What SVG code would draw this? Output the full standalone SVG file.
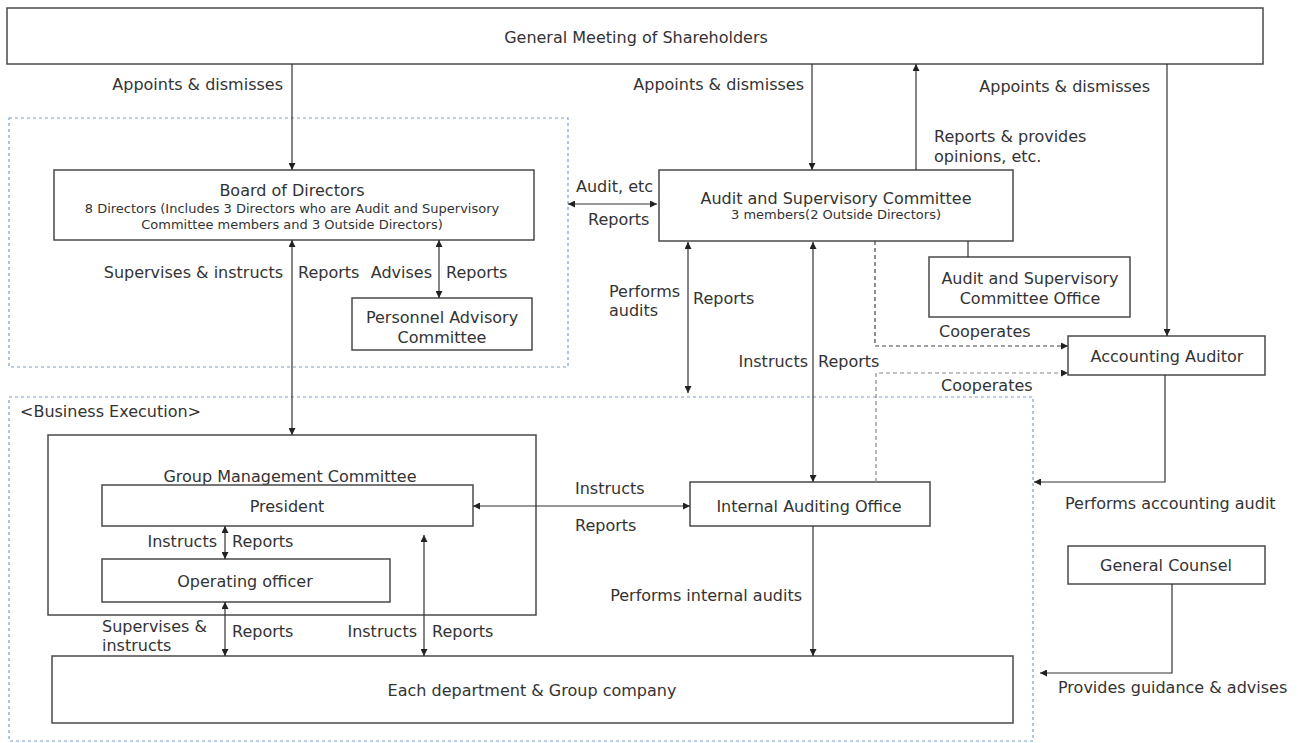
<svg xmlns="http://www.w3.org/2000/svg" width="1298" height="743" viewBox="0 0 1298 743">
<defs>
<style>
text{font-family:"DejaVu Sans","Liberation Sans",sans-serif;font-size:16px;fill:#333;dominant-baseline:central}
.s{font-size:13px}
.m{text-anchor:middle}
.e{text-anchor:end}
.box{fill:#fff;stroke:#4a4a4a;stroke-width:1.5}
.grp{fill:none;stroke:#7b9fd0;stroke-width:1.2;stroke-dasharray:3 3}
.ln{fill:none;stroke:#333;stroke-width:1.2}
.dl{fill:none;stroke:#444;stroke-width:1.2;stroke-dasharray:4 3}
.dl2{fill:none;stroke:#888;stroke-width:1.2;stroke-dasharray:4 3}
</style>
<marker id="ah" viewBox="0 0 10 10" refX="10" refY="5" markerWidth="7" markerHeight="7" markerUnits="userSpaceOnUse" orient="auto-start-reverse">
<path d="M0,0 L10,5 L0,10 z" fill="#222"/>
</marker>
</defs>

<rect class="grp" x="9" y="118" width="559" height="249"/>
<rect class="grp" x="9" y="397" width="1024" height="344"/>
<text x="20" y="411">&lt;Business Execution&gt;</text>

<g id="gms"><rect class="box" x="7" y="8" width="1256" height="56"/><text class="m" x="636" y="37">General Meeting of Shareholders</text></g>
<g id="board"><rect class="box" x="54" y="170" width="480" height="70"/><text class="m" x="292" y="190">Board of Directors</text><text class="m s" x="292" y="208">8 Directors (Includes 3 Directors who are Audit and Supervisory</text><text class="m s" x="292" y="224">Committee members and 3 Outside Directors)</text></g>
<g id="asc"><rect class="box" x="659" y="170" width="354" height="71"/><text class="m" x="836" y="198">Audit and Supervisory Committee</text><text class="m s" x="836" y="214">3 members(2 Outside Directors)</text></g>
<g id="asco"><rect class="box" x="929" y="257" width="201" height="60"/><text class="m" x="1030" y="278">Audit and Supervisory</text><text class="m" x="1030" y="298">Committee Office</text></g>
<g id="aa"><rect class="box" x="1068" y="336" width="197" height="39"/><text class="m" x="1167" y="356">Accounting Auditor</text></g>
<g id="pac"><rect class="box" x="352" y="298" width="180" height="52"/><text class="m" x="442" y="317">Personnel Advisory</text><text class="m" x="442" y="337">Committee</text></g>
<g id="gmc"><rect class="box" x="48" y="435" width="488" height="180"/><text class="m" x="290" y="476">Group Management Committee</text></g>
<g id="pres"><rect class="box" x="102" y="485" width="371" height="41"/><text class="m" x="287" y="506">President</text></g>
<g id="oper"><rect class="box" x="102" y="559" width="288" height="43"/><text class="m" x="245" y="581">Operating officer</text></g>
<g id="iao"><rect class="box" x="690" y="482" width="240" height="44"/><text class="m" x="809" y="506">Internal Auditing Office</text></g>
<g id="dept"><rect class="box" x="52" y="656" width="961" height="67"/><text class="m" x="532" y="690">Each department &amp; Group company</text></g>
<g id="gc"><rect class="box" x="1068" y="546" width="197" height="38"/><text class="m" x="1166" y="565">General Counsel</text></g>

<g id="connectors">
<path class="ln" d="M292,64 V170" marker-end="url(#ah)"/>
<path class="ln" d="M812,64 V170" marker-end="url(#ah)"/>
<path class="ln" d="M916,170 V64" marker-end="url(#ah)"/>
<path class="ln" d="M1167,64 V336" marker-end="url(#ah)"/>
<path class="ln" d="M568,204 H657" marker-start="url(#ah)" marker-end="url(#ah)"/>
<path class="ln" d="M968,241 V257"/>
<path class="dl" d="M875,241 V346 H1068" marker-end="url(#ah)"/>
<path class="dl2" d="M876,482 V373 H1068" marker-end="url(#ah)"/>
<path class="ln" d="M688,242 V393" marker-start="url(#ah)" marker-end="url(#ah)"/>
<path class="ln" d="M813,242 V482" marker-start="url(#ah)" marker-end="url(#ah)"/>
<path class="ln" d="M292,240 V435" marker-start="url(#ah)" marker-end="url(#ah)"/>
<path class="ln" d="M439,240 V298" marker-start="url(#ah)" marker-end="url(#ah)"/>
<path class="ln" d="M473,506 H690" marker-start="url(#ah)" marker-end="url(#ah)"/>
<path class="ln" d="M225,526 V559" marker-start="url(#ah)" marker-end="url(#ah)"/>
<path class="ln" d="M225,602 V656" marker-start="url(#ah)" marker-end="url(#ah)"/>
<path class="ln" d="M424,535 V656" marker-start="url(#ah)" marker-end="url(#ah)"/>
<path class="ln" d="M813,526 V656" marker-end="url(#ah)"/>
<path class="ln" d="M1165,375 V482 H1034" marker-end="url(#ah)"/>
<path class="ln" d="M1172,584 V673 H1040" marker-end="url(#ah)"/>

<text class="e" x="283" y="84">Appoints &amp; dismisses</text>
<text class="e" x="804" y="84">Appoints &amp; dismisses</text>
<text class="e" x="1150" y="86">Appoints &amp; dismisses</text>
<text x="934" y="136">Reports &amp; provides</text>
<text x="934" y="156">opinions, etc.</text>
<text x="576" y="186">Audit, etc</text>
<text x="588" y="219">Reports</text>
<text x="939" y="331">Cooperates</text>
<text x="941" y="385">Cooperates</text>
<text x="609" y="291">Performs</text>
<text x="609" y="310">audits</text>
<text x="693" y="298">Reports</text>
<text class="e" x="808" y="361">Instructs</text>
<text x="818" y="361">Reports</text>
<text class="e" x="283" y="272">Supervises &amp; instructs</text>
<text x="298" y="272">Reports</text>
<text class="e" x="432" y="272">Advises</text>
<text x="446" y="272">Reports</text>
<text x="575" y="488">Instructs</text>
<text x="575" y="525">Reports</text>
<text class="e" x="217" y="541">Instructs</text>
<text x="232" y="541">Reports</text>
<text x="102" y="626">Supervises &amp;</text>
<text x="102" y="645">instructs</text>
<text x="232" y="631">Reports</text>
<text class="e" x="417" y="631">Instructs</text>
<text x="432" y="631">Reports</text>
<text class="e" x="802" y="595">Performs internal audits</text>
<text x="1065" y="503">Performs accounting audit</text>
<text x="1058" y="687">Provides guidance &amp; advises</text>
</g>
</svg>
